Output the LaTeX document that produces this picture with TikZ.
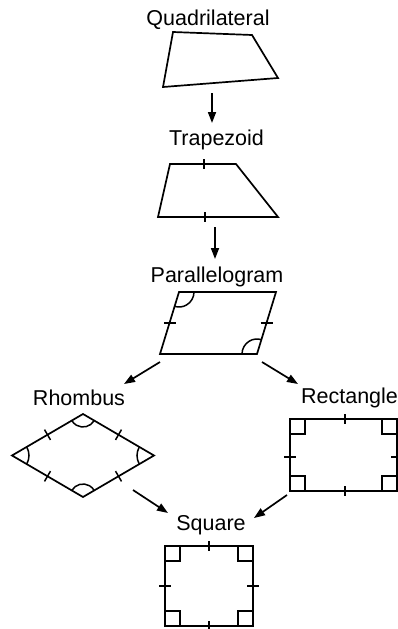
\documentclass[tikz,border=0pt]{standalone}
\usepackage{fontspec}
\setmainfont{Liberation Sans}
\usetikzlibrary{arrows.meta}
\begin{document}
\begin{tikzpicture}[x=1pt,y=-1pt,
  shape line/.style={line width=1.7pt,line join=miter},
  mark line/.style={line width=1.5pt},
  conn/.style={line width=1.7pt,-{Triangle[length=11pt,width=8pt]}},
  lbl/.style={anchor=base,inner sep=0pt,font=\fontsize{21.5}{24}\selectfont}]
\useasboundingbox (0,0) rectangle (398,629);
% labels
\node[lbl] (quad) at (208,25) {Quadrilateral};
\node[lbl] (trap) at (216.5,145) {Trapezoid};
\node[lbl] (para) at (217,282) {Parallelogram};
\node[lbl] (rhom) at (79,405) {Rhombus};
\node[lbl] (rect) at (349.5,403) {Rectangle};
\node[lbl] (squ) at (211,530) {Square};
% quadrilateral
\draw[shape line] (173,32) -- (252,35) -- (278,78) -- (163,87) -- cycle;
% trapezoid
\draw[shape line] (170,164) -- (236,164) -- (278,217) -- (158,217) -- cycle;
\draw[mark line] (204,159) -- (204,169);
\draw[mark line] (205,212) -- (205,222);
% parallelogram
\draw[shape line] (179,292) -- (276,292) -- (257,354) -- (160,354) -- cycle;
\draw[mark line] (194,292) arc[start angle=0,end angle=107,radius=15];
\draw[mark line] (242,354) arc[start angle=180,end angle=287,radius=15];
\draw[mark line] (164,323) -- (176,323);
\draw[mark line] (260.5,323) -- (272.5,323);
% rhombus
\draw[shape line] (83,414) -- (154,455.5) -- (83,497) -- (12,455.5) -- cycle;
\draw[mark line] ([shift={(30.3:13)}]83,414) arc[start angle=30.3,end angle=149.7,radius=13];
\draw[mark line] ([shift={(210.3:13)}]83,497) arc[start angle=210.3,end angle=329.7,radius=13];
\draw[mark line] ([shift={(-30.3:17)}]12,455.5) arc[start angle=-30.3,end angle=30.3,radius=17];
\draw[mark line] ([shift={(149.7:17)}]154,455.5) arc[start angle=149.7,end angle=210.3,radius=17];
\draw[mark line] (44.5,429.6) -- (50.5,439.9);
\draw[mark line] (121.5,429.6) -- (115.5,439.9);
\draw[mark line] (50.5,471.1) -- (44.5,481.4);
\draw[mark line] (115.5,471.1) -- (121.5,481.4);
% rectangle
\draw[shape line] (290,419) rectangle (397,491);
\draw[mark line] (290,434) -| (305,419);
\draw[mark line] (397,434) -| (382,419);
\draw[mark line] (290,476) -| (305,491);
\draw[mark line] (397,476) -| (382,491);
\draw[mark line] (345,414) -- (345,424);
\draw[mark line] (345,486) -- (345,496);
\draw[mark line] (284,457) -- (296,457);
\draw[mark line] (391,457) -- (403,457);
% square
\draw[shape line] (165,546) rectangle (253,626);
\draw[mark line] (165,561) -| (180,546);
\draw[mark line] (253,561) -| (238,546);
\draw[mark line] (165,611) -| (180,626);
\draw[mark line] (253,611) -| (238,626);
\draw[mark line] (209,541) -- (209,551);
\draw[mark line] (209,621) -- (209,631);
\draw[mark line] (159,586) -- (171,586);
\draw[mark line] (247,586) -- (259,586);
% connector end points
\coordinate (a1s) at (212,93);  \coordinate (a1e) at (212,123);
\coordinate (a2s) at (215,227); \coordinate (a2e) at (215,259);
\coordinate (a3s) at (160,362); \coordinate (a3e) at (124,384);
\coordinate (a4s) at (262,362); \coordinate (a4e) at (298,384);
\coordinate (a5s) at (133,490); \coordinate (a5e) at (168,513);
\coordinate (a6s) at (287,495); \coordinate (a6e) at (254,518);
\draw[conn] (a1s) -- (a1e);
\draw[conn] (a2s) -- (a2e);
\draw[conn] (a3s) -- (a3e);
\draw[conn] (a4s) -- (a4e);
\draw[conn] (a5s) -- (a5e);
\draw[conn] (a6s) -- (a6e);
\end{tikzpicture}
\end{document}
